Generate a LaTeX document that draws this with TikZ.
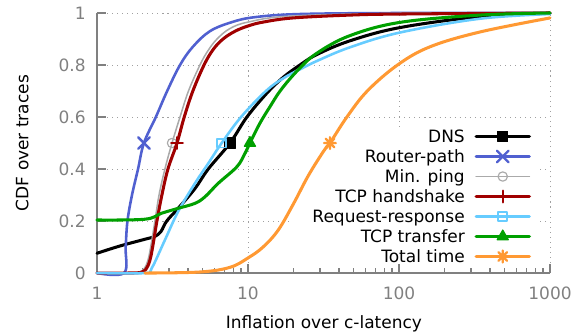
\documentclass[tikz,border=0pt]{standalone}
\usepackage{fontspec}
\setmainfont{DejaVu Sans}
\usetikzlibrary{plotmarks}
\definecolor{axisgray}{HTML}{808080}
\definecolor{gridgray}{HTML}{A0A0A0}
\definecolor{routerblue}{HTML}{5060D0}
\definecolor{pinggray}{HTML}{AAAAAA}
\definecolor{tcpred}{HTML}{A00000}
\definecolor{reqcyan}{HTML}{66CCFF}
\definecolor{xfergreen}{HTML}{00A000}
\definecolor{totorange}{HTML}{FF9933}
% plus and cross on top of each other
\pgfdeclareplotmark{starburst}{%
  \pgfpathmoveto{\pgfqpoint{-\pgfplotmarksize}{0pt}}%
  \pgfpathlineto{\pgfqpoint{\pgfplotmarksize}{0pt}}%
  \pgfpathmoveto{\pgfqpoint{0pt}{-\pgfplotmarksize}}%
  \pgfpathlineto{\pgfqpoint{0pt}{\pgfplotmarksize}}%
  \pgfpathmoveto{\pgfqpoint{-.75\pgfplotmarksize}{-.75\pgfplotmarksize}}%
  \pgfpathlineto{\pgfqpoint{.75\pgfplotmarksize}{.75\pgfplotmarksize}}%
  \pgfpathmoveto{\pgfqpoint{-.75\pgfplotmarksize}{.75\pgfplotmarksize}}%
  \pgfpathlineto{\pgfqpoint{.75\pgfplotmarksize}{-.75\pgfplotmarksize}}%
  \pgfusepathqstroke}
\tikzset{
  axisline/.style={draw=axisgray, line width=1.3pt},
  gridline/.style={draw=gridgray, line width=0.8pt, dash pattern=on 0.9pt off 3.4pt},
  ticklabel/.style={text=axisgray, inner sep=0pt},
  axistitle/.style={inner sep=0pt, anchor=base},
  keytext/.style={inner sep=0pt, anchor=base east},
  cdfcurve/.style={line cap=round, line join=round},
  dns line/.style={cdfcurve, draw=black, line width=2.6pt},
  router line/.style={cdfcurve, draw=routerblue, line width=2.2pt},
  ping line/.style={cdfcurve, draw=pinggray, line width=1.3pt},
  handshake line/.style={cdfcurve, draw=tcpred, line width=2.6pt},
  reqresp line/.style={cdfcurve, draw=reqcyan, line width=2.2pt},
  transfer line/.style={cdfcurve, draw=xfergreen, line width=2.6pt},
  total line/.style={cdfcurve, draw=totorange, line width=2.6pt},
  dns mark/.style={mark=square*, mark size=4.4pt,
                   mark options={solid, line width=1pt, draw=black, fill=black}},
  router mark/.style={mark=x, mark size=7pt, mark options={line width=2pt}},
  ping mark/.style={mark=o, mark size=4pt, mark options={line width=1pt}},
  handshake mark/.style={mark=+, mark size=5pt, mark options={line width=2pt}},
  reqresp mark/.style={mark=square, mark size=3.8pt, mark options={line width=1.6pt}},
  transfer mark/.style={mark=triangle*, mark size=5.5pt,
                        mark options={line width=1pt, fill=xfergreen}},
  total mark/.style={mark=starburst, mark size=5pt, mark options={line width=2pt}}
}

\begin{document}
\begin{tikzpicture}[x=4.53cm, y=7.8cm, font=\fontsize{14.5}{17}\selectfont]
  \useasboundingbox (-0.642,-0.2385) rectangle (3.225,1.05);

  % grid
  \foreach \c in {0.2,0.4,0.6,0.8,1}
    \draw[gridline] (0,\c) -- (3,\c);
  \foreach \u in {1,2,3}
    \draw[gridline] (\u,0) -- (\u,1);

  % key background
  \fill[white] (1.291,0.035) rectangle (2.921,0.5615);

  % axes and ticks
  \draw[axisline] (0,1) -- (0,0) -- (3,0);
  \foreach \c/\txt [count=\i] in {0/0,0.2/0.2,0.4/0.4,0.6/0.6,0.8/0.8,1/1} {
    \draw[axisline] (0,\c) -- (0.06,\c);
    \node[ticklabel, anchor=east] (ylab\i) at (-0.073,\c) {\txt};
  }
  \foreach \u/\txt in {0/1,1/10,2/100,3/1000} {
    \draw[axisline] (\u,0) -- (\u,0.035);
    \node[ticklabel] (xlab\txt) at (\u,-0.077) {\txt};
  }
  \foreach \d in {0,1,2}
    \foreach \k in {2,...,9}
      \draw[axisline] ({\d+log10(\k)},0) -- ({\d+log10(\k)},0.019);

  \node[axistitle, rotate=90] (ytitle) at (-0.454,0.5) {CDF over traces};
  \node[axistitle] (xtitle) at (1.503,-0.213) {Inflation over c-latency};

  % curves
  \draw[dns line] plot[smooth, tension=0.6] coordinates {
    (0,0.076) (0.152,0.104) (0.318,0.130) (0.384,0.141) (0.424,0.160)
    (0.462,0.2) (0.538,0.249) (0.649,0.325) (0.737,0.4) (0.881,0.5)
    (0.993,0.6) (1.124,0.691) (1.232,0.752) (1.344,0.8) (1.455,0.840)
    (1.675,0.893) (2.007,0.944) (2.536,0.986) (3,0.999)};
  \draw[dns line] plot[only marks, dns mark] coordinates {(0.881,0.5)};

  \draw[router line] plot[smooth, tension=0.6] coordinates {
    (0,0) (0.179,0) (0.190,0.1) (0.202,0.2) (0.232,0.3) (0.272,0.4)
    (0.311,0.5) (0.390,0.6) (0.465,0.7) (0.550,0.8) (0.635,0.87)
    (0.748,0.930) (0.894,0.965) (1.046,0.984) (1.344,0.996) (2.007,1) (3,1)};
  \draw[router line] plot[only marks, router mark] coordinates {(0.311,0.5)};

  \draw[ping line] plot[smooth, tension=0.6] coordinates {
    (0,0) (0.185,0) (0.272,0.002) (0.311,0.015) (0.338,0.05) (0.358,0.108)
    (0.384,0.2) (0.411,0.3) (0.450,0.4) (0.497,0.5) (0.550,0.6) (0.606,0.7)
    (0.682,0.8) (0.735,0.855) (0.795,0.9) (0.880,0.94) (1.0,0.965)
    (1.278,0.988) (2.007,0.999) (3,1)};
  \draw[ping line] plot[only marks, ping mark] coordinates {(0.497,0.5)};

  \draw[handshake line] plot[smooth, tension=0.6] coordinates {
    (0,0) (0.185,0) (0.285,0.002) (0.325,0.015) (0.351,0.05) (0.371,0.108)
    (0.397,0.2) (0.430,0.3) (0.470,0.4) (0.530,0.5) (0.578,0.6) (0.635,0.7)
    (0.709,0.8) (0.77,0.86) (0.835,0.9) (0.915,0.93) (1.0,0.95) (1.1,0.965)
    (1.298,0.981) (1.676,0.992) (2.007,0.996) (3,1)};
  \draw[handshake line] plot[only marks, handshake mark] coordinates {(0.530,0.5)};

  \draw[reqresp line] plot[smooth, tension=0.6] coordinates {
    (0,0) (0.318,0) (0.362,0.018) (0.450,0.127) (0.538,0.237) (0.649,0.345)
    (0.735,0.42) (0.826,0.5) (0.954,0.6) (1.119,0.7) (1.234,0.749)
    (1.344,0.783) (1.455,0.815) (1.675,0.868) (2.007,0.925) (2.536,0.978)
    (3,0.996)};
  \draw[reqresp line] plot[only marks, reqresp mark] coordinates {(0.826,0.5)};

  \draw[transfer line] plot[smooth, tension=0.6] coordinates {
    (0,0.204) (0.318,0.207) (0.428,0.230) (0.538,0.249) (0.649,0.268)
    (0.715,0.293) (0.803,0.345) (0.927,0.409) (0.980,0.460) (1.013,0.5)
    (1.079,0.576) (1.146,0.640) (1.219,0.705) (1.33,0.78) (1.455,0.845)
    (1.675,0.913) (2.007,0.964) (2.536,0.992) (3,1)};
  \draw[transfer line] plot[only marks, transfer mark] coordinates {(1.013,0.5)};

  \draw[total line] plot[smooth, tension=0.6] coordinates {
    (0.318,0) (0.682,0.004) (0.881,0.022) (1.0,0.058) (1.1,0.10)
    (1.2,0.165) (1.3,0.265) (1.4,0.375) (1.5,0.468) (1.543,0.5)
    (1.655,0.6) (1.79,0.7) (1.99,0.8) (2.205,0.87) (2.536,0.927)
    (3,0.981)};
  \draw[total line] plot[only marks, total mark] coordinates {(1.543,0.5)};

  % key
  \foreach \lbl/\ser [count=\i from 0] in {DNS/dns, Router-path/router,
      Min. ping/ping, TCP handshake/handshake, Request-response/reqresp,
      TCP transfer/transfer, Total time/total} {
    \pgfmathsetmacro\ky{0.525-0.0769*\i}
    \node[keytext] (key\ser) at (2.437,\ky-0.0212) {\lbl};
    \draw[\ser\space line] (2.510,\ky) -- (2.864,\ky);
    \draw[\ser\space line] plot[only marks, \ser\space mark] coordinates {(2.687,\ky)};
  }
\end{tikzpicture}
\end{document}
